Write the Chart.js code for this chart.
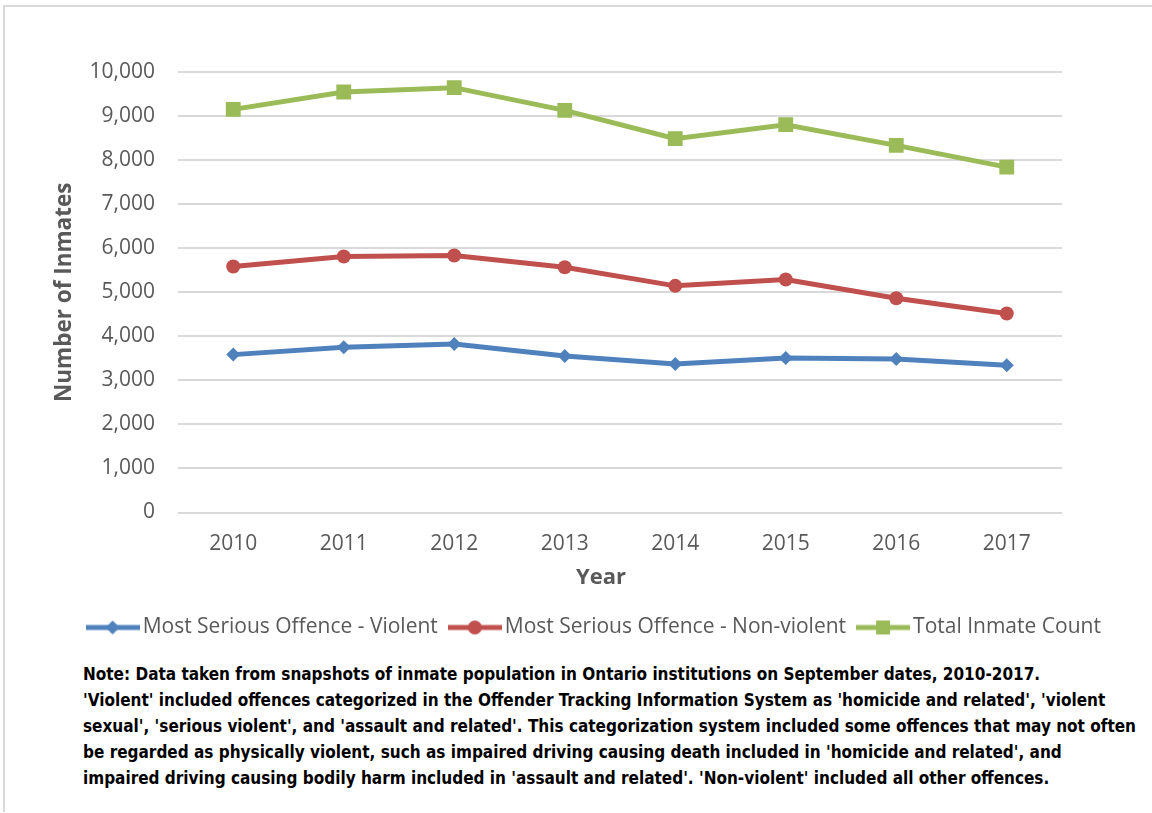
<!DOCTYPE html>
<html>
<head>
<meta charset="utf-8">
<script src="https://cdn.jsdelivr.net/npm/chart.js@4.4.0/dist/chart.umd.min.js"></script>
<style>
    body { margin: 0; background: #fff; width: 1152px; height: 813px; overflow: hidden; position: relative; font-family: 'Open Sans', sans-serif; }
    #frame { position: absolute; left: 3px; top: 5px; width: 1200px; height: 805px; border-top: 2px solid #d9d9d9; border-left: 2px solid #d9d9d9; }
    #chartBox { position: absolute; left: 0; top: 0; width: 1152px; height: 650px; }
    #note { position: absolute; left: 83px; top: 661px; font-family: 'Liberation Sans Narrow', 'DejaVu Sans Condensed', 'Open Sans', sans-serif; font-weight: bold; color: #000; line-height: 26px; white-space: nowrap; font-size: 20px; }
    #note span { display: block; }
</style>
</head>
<body>
<div id="frame"></div>
<div id="chartBox"><canvas id="myChart" width="1152" height="650"></canvas></div>
<div id="note">
    <span id="noteFirst">Note: Data taken from snapshots of inmate population in Ontario institutions on September dates, 2010-2017.</span>
    <span>'Violent' included offences categorized in the Offender Tracking Information System as 'homicide and related', 'violent</span>
    <span>sexual', 'serious violent', and 'assault and related'. This categorization system included some offences that may not often</span>
    <span>be regarded as physically violent, such as impaired driving causing death included in 'homicide and related', and</span>
    <span>impaired driving causing bodily harm included in 'assault and related'. 'Non-violent' included all other offences.</span>
</div>
<script>
const years = ['2010', '2011', '2012', '2013', '2014', '2015', '2016', '2017']
const violent = [3584, 3750, 3827, 3554, 3372, 3509, 3486, 3341]
const nonViolent = [5584, 5811, 5834, 5568, 5145, 5289, 4864, 4516]
const totalCount = [9152, 9545, 9645, 9130, 8486, 8804, 8334, 7841]
const seriesNames = ['Most Serious Offence - Violent', 'Most Serious Offence - Non-violent', 'Total Inmate Count']
const yMin = 0
const yMax = 10000
const yStep = 1000
const xTitle = 'Year'
const yTitle = 'Number of Inmates'

const blue = '#4f81bd'
const red = '#c0504d'
const green = '#9bbb59'
const grey = '#595959'

// fit the note to the width of its first line in the picture
const note = document.querySelector('#note')
const firstLine = document.querySelector('#noteFirst')
firstLine.style.display = 'inline-block'
let w = firstLine.getBoundingClientRect().width
note.style.fontSize = (20 * 957 / w).toFixed(2) + 'px'
firstLine.style.display = 'block'

// legend sample: line with the marker in the middle
function legendSample(color, style) {
    const c = document.createElement('canvas')
    c.width = 54
    c.height = 18
    const g = c.getContext('2d')
    g.strokeStyle = color
    g.fillStyle = color
    g.lineWidth = 5
    g.beginPath()
    g.moveTo(0, 9)
    g.lineTo(54, 9)
    g.stroke()
    g.beginPath()
    if (style == 'diamond') {
        g.moveTo(27, 2); g.lineTo(34, 9); g.lineTo(27, 16); g.lineTo(20, 9)
    } else if (style == 'circle') {
        g.arc(27, 9, 7, 0, Math.PI * 2)
    } else {
        g.rect(20, 2, 14, 14)
    }
    g.closePath()
    g.fill()
    return c
}
const samples = [legendSample(blue, 'diamond'), legendSample(red, 'circle'), legendSample(green, 'square')]

const axisTitles = {
    id: 'axisTitles',
    afterLayout(chart) {
        // legend row sits a bit right of the canvas middle in the picture
        const lg = chart.legend
        const shift = 597 - (lg.left + lg.right) / 2
        lg.left += shift
        lg.right += shift
    },
    afterDraw(chart) {
        const ctx = chart.ctx
        const area = chart.chartArea
        ctx.save()
        ctx.fillStyle = grey
        ctx.textAlign = 'center'
        ctx.textBaseline = 'middle'
        ctx.font = 'bold 22px "Open Sans"'
        ctx.fillText(xTitle, 601, 578)
        ctx.translate(65, (area.top + area.bottom) / 2)
        ctx.rotate(-Math.PI / 2)
        ctx.font = 'bold 22.5px "Open Sans"'
        ctx.fillText(yTitle, 0, 0)
        ctx.restore()
    }
}

function makeSet(label, data, color, style, radius) {
    return {
        label: label,
        data: data,
        borderColor: color,
        backgroundColor: color,
        borderWidth: 5,
        pointStyle: style,
        pointRadius: radius,
        pointHoverRadius: radius,
        pointBorderWidth: 0,
        pointBackgroundColor: color,
        tension: 0
    }
}

const ctx = document.getElementById('myChart').getContext('2d')
const myChart = new Chart(ctx, {
    type: 'line',
    data: {
        labels: years,
        datasets: [
            makeSet(seriesNames[0], violent, blue, 'rectRot', 7),
            makeSet(seriesNames[1], nonViolent, red, 'circle', 7),
            makeSet(seriesNames[2], totalCount, green, 'rect', 10.5)
        ]
    },
    plugins: [axisTitles],
    options: {
        responsive: false,
        animation: false,
        layout: { padding: { left: 0, right: 90, top: 72, bottom: 2 } },
        plugins: {
            tooltip: { enabled: false },
            legend: {
                position: 'bottom',
                labels: {
                    usePointStyle: true,
                    pointStyleWidth: 39, // sample image is 54 wide, so it hangs over and the text sits close
                    padding: 17.5,
                    color: grey,
                    font: { family: 'Open Sans', size: 21 },
                    generateLabels: (chart) => chart.data.datasets.map((d, i) => ({
                        text: d.label,
                        pointStyle: samples[i],
                        fillStyle: 'transparent',
                        strokeStyle: 'transparent',
                        lineWidth: 0,
                        fontColor: grey,
                        hidden: false,
                        datasetIndex: i
                    }))
                }
            }
        },
        scales: {
            x: {
                offset: true,
                grid: { display: false, drawTicks: false },
                border: { display: false },
                ticks: { color: grey, padding: 19, font: { family: 'Open Sans', size: 21 } },
                afterFit: (s) => { s.height = 87 }
            },
            y: {
                min: yMin,
                max: yMax,
                grid: { color: '#d9d9d9', lineWidth: 2, drawTicks: false },
                border: { display: false },
                ticks: {
                    stepSize: yStep,
                    padding: 23,
                    color: grey,
                    font: { family: 'Open Sans', size: 21 },
                    callback: (v) => v.toLocaleString('en-US')
                },
                afterFit: (s) => { s.width = 178 }
            }
        }
    }
})
</script>
</body>
</html>
